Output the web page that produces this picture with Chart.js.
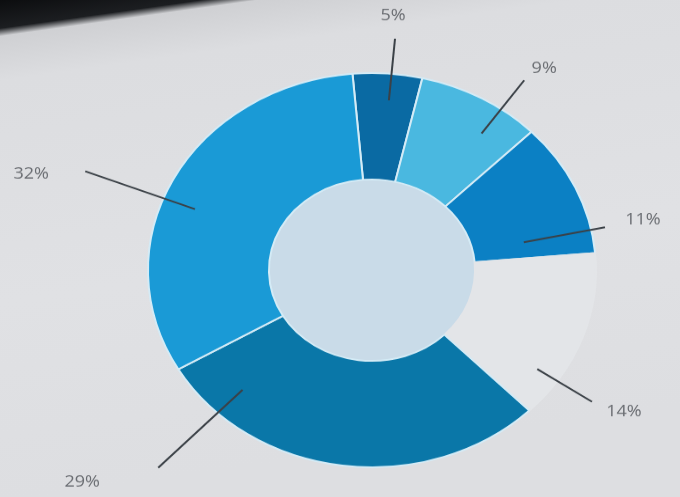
<!DOCTYPE html>
<html lang="en">
<head>
  <meta charset="UTF-8">
  <title>Donut chart</title>
  <script src="https://cdn.jsdelivr.net/npm/chart.js"></script>
  <style>
    html, body {
      margin: 0;
      width: 680px;
      height: 497px;
      overflow: hidden;
    }
    body {
      background: linear-gradient(172deg, #0c0d0f 0, #1c1e21 28px, #cfd0d3 36px, #dcdde0 80px, #e0e1e4 300px, #dddee1 497px);
      font-family: "Open Sans", Arial, sans-serif;
    }
    #wrap {
      width: 680px;
      height: 560px;
      transform: scaleY(0.88);
      transform-origin: 0 0;
    }
  </style>
</head>
<body>

  <div id="wrap">
    <canvas id="donut" width="680" height="560"></canvas>
  </div>

  <script>
    const labels = ['5%', '9%', '11%', '14%', '29%', '32%'];
    const shares = [5, 9, 11, 14, 29, 32];
    const colors = ['#0a6aa3', '#4ab8e0', '#0b80c4', '#e3e5e8', '#0a77a8', '#1a9ad6'];
    const edges = ['#d4ebf6', '#d4ebf6', '#d4ebf6', '#e3e5e8', '#d4ebf6', '#d4ebf6'];

    // leader line tweaks: where it starts in the ring, degrees turned,
    // extra length past the rim, and the label offset from the line end
    const leaders = [
      { from: 0.75, turn: 1, len: 40, dx: -2, dy: -26 },
      { from: 0.72, turn: 6, len: 40, dx: 20, dy: -13 },
      { from: 0.43, turn: 13, len: 14, dx: 38, dy: -8 },
      { from: 0.80, turn: 14, len: 42, dx: 32, dy: 11 },
      { from: 0.70, turn: 36, len: 86, dx: -76, dy: 16 },
      { from: 0.72, turn: -6, len: 84, dx: -54, dy: 3 }
    ];

    const leaderPlugin = {
      id: 'leaderLabels',
      beforeDatasetsDraw(chart) {
        const arc = chart.getDatasetMeta(0).data[0];
        const ctx = chart.ctx;
        ctx.save();
        ctx.fillStyle = '#c9dbe8';
        ctx.beginPath();
        ctx.arc(arc.x, arc.y, arc.innerRadius, 0, Math.PI * 2);
        ctx.fill();
        ctx.restore();
      },
      afterDatasetsDraw(chart) {
        const ctx = chart.ctx;
        ctx.save();
        chart.getDatasetMeta(0).data.forEach((arc, i) => {
          const l = leaders[i];
          const a = (arc.startAngle + arc.endAngle) / 2 + l.turn * Math.PI / 180;
          const r0 = arc.innerRadius + (arc.outerRadius - arc.innerRadius) * l.from;
          const r1 = arc.outerRadius + l.len;
          const ex = arc.x + Math.cos(a) * r1;
          const ey = arc.y + Math.sin(a) * r1;
          ctx.strokeStyle = '#3b4147';
          ctx.lineWidth = 2;
          ctx.beginPath();
          ctx.moveTo(arc.x + Math.cos(a) * r0, arc.y + Math.sin(a) * r0);
          ctx.lineTo(ex, ey);
          ctx.stroke();
          ctx.fillStyle = '#6a6d72';
          ctx.font = '18px "Open Sans", Arial, sans-serif';
          ctx.textAlign = 'center';
          ctx.textBaseline = 'middle';
          ctx.fillText(labels[i], ex + l.dx, ey + l.dy);
        });
        ctx.restore();
      }
    };

    new Chart(document.getElementById('donut'), {
      type: 'doughnut',
      data: {
        labels: labels,
        datasets: [{
          data: shares,
          backgroundColor: colors,
          borderColor: edges,
          borderWidth: 2,
          hoverOffset: 0
        }]
      },
      options: {
        responsive: false,
        animation: false,
        rotation: -5,
        cutout: '46%',
        layout: {
          padding: { left: 64, right: 0, top: 82, bottom: 28 }
        },
        plugins: {
          legend: { display: false },
          tooltip: { enabled: false }
        }
      },
      plugins: [leaderPlugin]
    });
  </script>

</body>
</html>
